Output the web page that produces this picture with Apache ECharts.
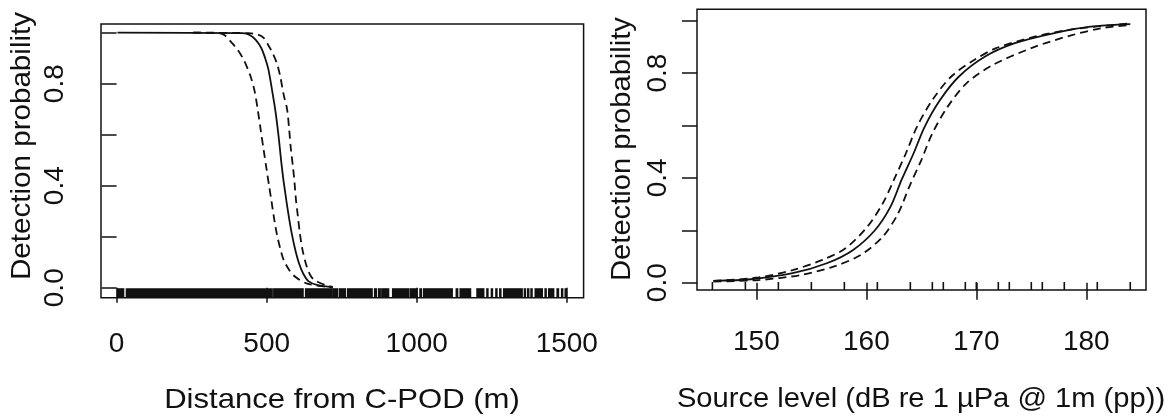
<!DOCTYPE html>
<html>
<head>
<meta charset="utf-8">
<script src="https://cdn.jsdelivr.net/npm/echarts@6/dist/echarts.min.js"></script>
<style>
html,body{margin:0;padding:0;background:#fff;}
#chart{width:1172px;height:417px;}
</style>
</head>
<body>
<div id="chart"></div>
<script>
// ---------- Left panel: detection probability vs distance ----------
var distTicks = [0, 500, 1000, 1500];
var probTicks = [0, 0.2, 0.4, 0.6, 0.8, 1.0];
var probLabels = [0, 0.4, 0.8];

var distFit = [[3,1],[420,0.998],[445,0.99],[465,0.97],[482,0.94],[495,0.90],[505,0.86],[513,0.81],[520,0.76],[527,0.71],[534,0.65],[541,0.58],[548,0.50],[555,0.43],[561,0.38],[567,0.33],[575,0.27],[584,0.21],[595,0.15],[608,0.095],[622,0.055],[640,0.025],[670,0.01],[720,0.002]];
var distLower = [[255,1.0],[340,0.998],[360,0.99],[384,0.96],[405,0.93],[425,0.89],[446,0.83],[460,0.77],[470,0.70],[480,0.62],[490,0.54],[499,0.47],[508,0.40],[516,0.34],[525,0.27],[534,0.21],[545,0.155],[557,0.108],[575,0.07],[595,0.043],[633,0.017],[684,0.006],[720,0.002]];
var distUpper = [[255,1.0],[440,0.998],[470,0.993],[490,0.98],[506,0.95],[520,0.92],[534,0.88],[545,0.83],[556,0.76],[568,0.70],[575,0.62],[581,0.54],[588,0.47],[593,0.41],[598,0.34],[604,0.28],[611,0.21],[620,0.145],[633,0.085],[645,0.05],[659,0.03],[697,0.01],[720,0.003]];
// rug of observed distances: start and end of each dense run (single ticks have a short run), metres
var distRugStart = [3,33,524,630,723,743,770,860,873,884,920,979,1011,1023,1132,1145,1201,1234,1249,1264,1277,1290,1359,1370,1381,1395,1428,1440,1468,1483,1495];
var distRugEnd   = [23,518,621,718,736,762,851,865,878,906,973,1001,1015,1118,1136,1179,1223,1237,1252,1267,1280,1351,1362,1373,1384,1418,1431,1456,1472,1486,1498];

// ---------- Right panel: detection probability vs source level ----------
var slTicks = [150, 160, 170, 180];
var slFit = [[146.1,0.0065],[149.5,0.013],[153.3,0.036],[156.4,0.074],[158.8,0.125],[160.8,0.201],[162.2,0.29],[163.2,0.392],[164.3,0.494],[165.3,0.595],[166.7,0.697],[168.4,0.786],[170.8,0.863],[173.5,0.914],[177.0,0.952],[180.4,0.977],[184.0,0.987]];
var slUpper = [[146.1,0.0065],[150.2,0.02],[153.3,0.048],[156.0,0.087],[158.1,0.131],[160.1,0.214],[161.5,0.303],[162.5,0.392],[163.6,0.494],[164.6,0.595],[166.0,0.697],[167.7,0.786],[169.8,0.85],[171.8,0.895],[175.3,0.939],[178.7,0.967],[184.0,0.99]];
var slLower = [[146.1,0.004],[150.2,0.01],[154.0,0.029],[157.0,0.061],[159.5,0.106],[161.5,0.176],[162.9,0.265],[163.9,0.366],[165.0,0.468],[166.0,0.57],[167.4,0.672],[169.1,0.761],[171.5,0.831],[175.3,0.90],[178.7,0.945],[181.4,0.971],[184.0,0.984]];
var slRug = [146,149,152,155,158,161,164,166,167,169,170,172,173,175,176,178,181,184];

var FONT = "'Liberation Sans', Arial, sans-serif";
var INK = '#111';

function xAxisCfg(idx, min, max, ticks, tickLen, margin) {
  return {
    type: 'value', gridIndex: idx, min: min, max: max,
    axisLine: {show: false},
    splitLine: {show: false},
    axisTick: {show: true, length: tickLen, customValues: ticks, lineStyle: {color: INK, width: 1.5}},
    axisLabel: {customValues: ticks, margin: margin, fontSize: 28, fontFamily: FONT, color: INK,
      formatter: function (v) { return String(v); }}
  };
}
function yAxisCfg(idx, min, max, margin) {
  return {
    type: 'value', gridIndex: idx, min: min, max: max,
    axisLine: {show: false},
    splitLine: {show: false},
    axisTick: {show: true, length: 15, customValues: probTicks, lineStyle: {color: INK, width: 1.5}},
    axisLabel: {customValues: probLabels, rotate: 90, margin: margin, fontSize: 28, fontFamily: FONT, color: INK,
      formatter: function (v) { return Number(v).toFixed(1); }}
  };
}
function lineSeries(idx, data, dashed) {
  return {
    type: 'line', xAxisIndex: idx, yAxisIndex: idx, data: data,
    showSymbol: false, symbol: 'none', smooth: 0.3, silent: true,
    lineStyle: {color: '#111', width: 1.8, type: dashed ? [8, 5] : 'solid'},
    z: 3
  };
}

var rugData = distRugStart.map(function (s, i) { return [s, 0, distRugEnd[i]]; });

var option = {
  animation: false,
  backgroundColor: '#fff',
  grid: [
    {left: 101, top: 24, width: 482.6, height: 273.7, show: true, borderColor: INK, borderWidth: 1.5, backgroundColor: 'transparent'},
    {left: 697, top: 9.3, width: 449, height: 280.7, show: true, borderColor: INK, borderWidth: 1.5, backgroundColor: 'transparent'}
  ],
  xAxis: [
    xAxisCfg(0, -52, 1556, distTicks, 15, 33),
    xAxisCfg(1, 144.6, 185.43, slTicks, 17, 38)
  ],
  yAxis: [
    yAxisCfg(0, -0.039, 1.034, 32),
    yAxisCfg(1, -0.028, 1.0435, 25)
  ],
  series: [
    lineSeries(0, distFit, false),
    lineSeries(0, distLower, true),
    lineSeries(0, distUpper, true),
    {
      type: 'custom', xAxisIndex: 0, yAxisIndex: 0, silent: true, clip: false,
      data: rugData,
      renderItem: function (params, api) {
        var s = distRugStart[params.dataIndex];
        var e = distRugEnd[params.dataIndex];
        var p0 = api.coord([s, 0]);
        var p1 = api.coord([e, 0]);
        var cs = params.coordSys;
        var bottom = cs.y + cs.height;
        return {type: 'rect',
          shape: {x: p0[0] - 0.8, y: bottom - 9.5, width: Math.max(p1[0] - p0[0], 0) + 1.6, height: 9.5},
          style: {fill: '#111'}};
      },
      z: 4
    },
    lineSeries(1, slFit, false),
    lineSeries(1, slUpper, true),
    lineSeries(1, slLower, true),
    {
      type: 'custom', xAxisIndex: 1, yAxisIndex: 1, silent: true, clip: false,
      data: slRug.map(function (v) { return [v, 0]; }),
      renderItem: function (params, api) {
        var p = api.coord([api.value(0), 0]);
        var cs = params.coordSys;
        var bottom = cs.y + cs.height;
        return {type: 'line',
          shape: {x1: p[0], y1: bottom - 8, x2: p[0], y2: bottom},
          style: {stroke: '#111', lineWidth: 1.6}};
      },
      z: 4
    }
  ],
  graphic: [
    {type: 'text', x: 342, y: 400, scaleX: 1.11, style: {text: 'Distance from C-POD (m)', font: '28px ' + FONT, fill: INK, textAlign: 'center', textVerticalAlign: 'middle'}},
    {type: 'text', x: 921, y: 399, scaleX: 1.04, style: {text: 'Source level (dB re 1 \u00b5Pa @ 1m (pp))', font: '28px ' + FONT, fill: INK, textAlign: 'center', textVerticalAlign: 'middle'}},
    {type: 'text', x: 22, y: 146, rotation: Math.PI / 2, scaleX: 1.057, style: {text: 'Detection probability', font: '28px ' + FONT, fill: INK, textAlign: 'center', textVerticalAlign: 'middle'}},
    {type: 'text', x: 622, y: 149, rotation: Math.PI / 2, scaleX: 1.04, style: {text: 'Detection probability', font: '28px ' + FONT, fill: INK, textAlign: 'center', textVerticalAlign: 'middle'}}
  ]
};

var chart = echarts.init(document.getElementById('chart'), null, {renderer: 'canvas'});
chart.setOption(option);
</script>
</body>
</html>
